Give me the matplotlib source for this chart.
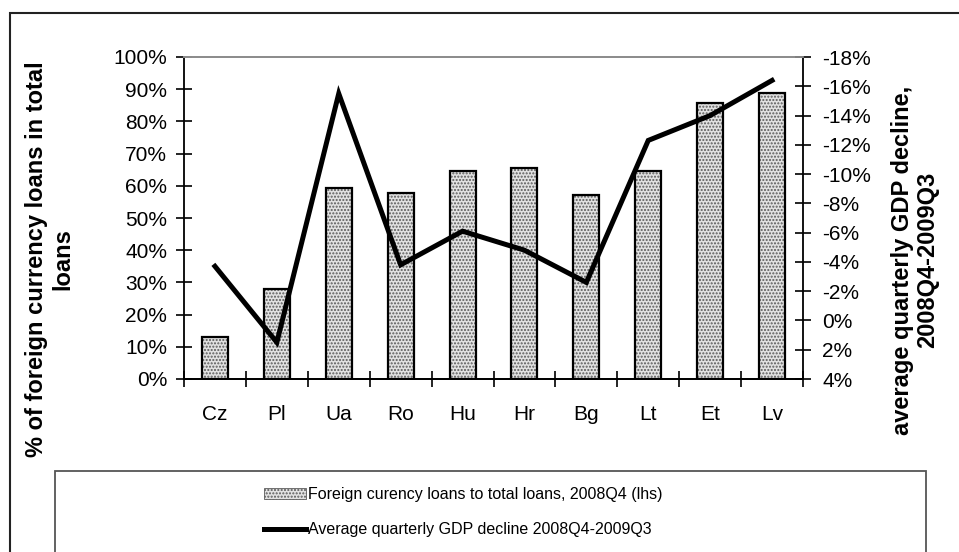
# foreign currency loans vs GDP decline, 2008Q4-2009Q3
import matplotlib
matplotlib.use('Agg')
import matplotlib.pyplot as plt
from matplotlib.patches import Rectangle, Patch
from matplotlib.lines import Line2D
from matplotlib.ticker import FixedLocator

plt.rcParams['font.family'] = ['Liberation Sans', 'DejaVu Sans']

countries = ['Cz', 'Pl', 'Ua', 'Ro', 'Hu', 'Hr', 'Bg', 'Lt', 'Et', 'Lv']
fx_loans_share = [13.1, 28.0, 59.4, 57.9, 64.6, 65.4, 57.1, 64.6, 85.8, 88.7]
gdp_decline = [-3.7, 1.5, -15.5, -3.8, -6.1, -4.8, -2.6, -12.3, -14.0, -16.4]

left_ticks = list(range(0, 101, 10))
right_ticks = list(range(-18, 5, 2))

label_bars = 'Foreign curency loans to total loans, 2008Q4 (lhs)'
label_line = 'Average quarterly GDP decline 2008Q4-2009Q3'

fig = plt.figure(figsize=(9.59, 5.52), dpi=100)
ax = fig.add_axes([184 / 959, 1 - 379 / 552, (803 - 184) / 959, (379 - 57) / 552])
ax2 = ax.twinx()

x = list(range(len(countries)))
# barras: relleno punteado gris + contorno negro
ax.bar(x, fx_loans_share, width=0.42, color='#e2e2e2', edgecolor='#5a5a5a',
       hatch='.....', linewidth=0, zorder=2)
ax.bar(x, fx_loans_share, width=0.42, fill=False, edgecolor='black',
       linewidth=1.6, zorder=3)

ax2.plot(x, gdp_decline, color='black', linewidth=3.6, solid_joinstyle='miter')

ax.set_xlim(-0.5, len(countries) - 0.5)
ax.set_ylim(0, 100)
ax2.set_ylim(4, -18)

ax.set_xticks(x)
ax.set_xticklabels(countries, fontsize=15)
ax.xaxis.set_minor_locator(FixedLocator([i - 0.5 for i in range(len(countries) + 1)]))
ax.tick_params(axis='x', which='major', length=0, pad=19)
ax.tick_params(axis='x', which='minor', direction='inout', length=12, width=1.2)

ax.set_yticks(left_ticks)
ax.set_yticklabels([f'{v}%' for v in left_ticks], fontsize=15)
ax.tick_params(axis='y', direction='inout', length=12, width=1.2, pad=6)

ax2.set_yticks(right_ticks)
ax2.set_yticklabels([f'{v}%' for v in right_ticks], fontsize=15)
ax2.tick_params(axis='y', direction='inout', length=12, width=1.2, pad=8)

for a in (ax, ax2):
    for side in ('left', 'right', 'bottom'):
        a.spines[side].set_linewidth(1.3)
    a.spines['top'].set_color('#8c8c8c')
    a.spines['top'].set_linewidth(1.3)
ax.spines['right'].set_visible(False)
ax2.spines['left'].set_visible(False)

fig.text(0.052, 0.531, '% of foreign currency loans in total\nloans', rotation=90,
         ha='center', va='center', multialignment='center',
         fontsize=17, fontweight='bold', linespacing=1.2)
fig.text(0.954, 0.529, 'average quarterly GDP decline,\n2008Q4-2009Q3', rotation=90,
         ha='center', va='center', multialignment='center',
         fontsize=17, fontweight='bold', linespacing=1.15)

# marco exterior y caja de la leyenda (cortados por el borde)
fig.add_artist(Rectangle((10 / 959, -0.2), 1.2, 1 - 13 / 552 + 0.2,
                         transform=fig.transFigure, fill=False,
                         edgecolor='#222222', linewidth=1.5))
fig.add_artist(Rectangle((55 / 959, -0.2), (926 - 55) / 959, 1 - 471 / 552 + 0.2,
                         transform=fig.transFigure, fill=False,
                         edgecolor='#555555', linewidth=1.3))

handles = [
    Patch(facecolor='#e2e2e2', edgecolor='#5a5a5a', hatch='.....', linewidth=0.6),
    Line2D([], [], color='black', linewidth=3.6),
]
fig.legend(handles, [label_bars, label_line], loc='upper center',
           bbox_to_anchor=(0.483, 1 - 473 / 552), frameon=False,
           prop={'size': 11.5},
           handlelength=2.6, handleheight=0.7, handletextpad=0.15, labelspacing=1.25)

fig.savefig('out.png', dpi=100)
